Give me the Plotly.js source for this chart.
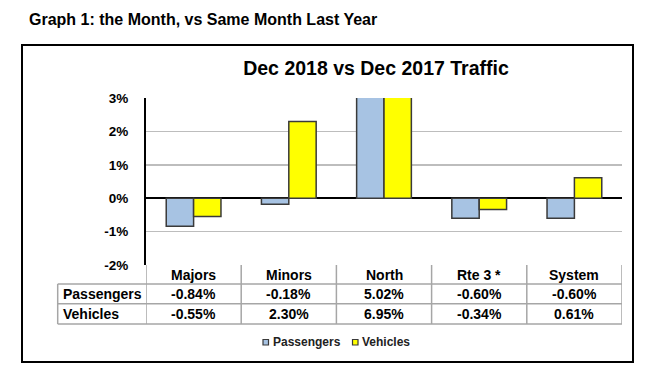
<!DOCTYPE html>
<html>
<head>
<meta charset="utf-8">
<script src="https://cdn.plot.ly/plotly-3.0.1.min.js"></script>
<style>html,body{margin:0;padding:0;background:#fff;}#chart{width:659px;height:384px;}</style>
</head>
<body>
<div id="chart"></div>
<script>
// ---- data ----
const categories = ["Majors", "Minors", "North", "Rte 3 *", "System"];
const passengers = [-0.84, -0.18, 5.02, -0.60, -0.60];
const vehicles = [-0.55, 2.30, 6.95, -0.34, 0.61];
const seriesNames = ["Passengers", "Vehicles"];
const yTickVals = [3, 2, 1, 0, -1, -2];
const yTickText = ["3%", "2%", "1%", "0%", "-1%", "-2%"];
const chartTitle = "Dec 2018 vs Dec 2017 Traffic";
const heading = "Graph 1: the Month, vs Same Month Last Year";

// ---- layout helpers (pixel -> paper) ----
const PL = 146, PR = 622, PT = 98, PB = 265;
const W = PR - PL, H = PB - PT;
const fx = p => (p - PL) / W;
const fy = p => (PB - p) / H;

const FONT = "Arial, 'Liberation Sans', sans-serif";
const colors = ["#A7C3E3", "#FFFF00"];
const edge = "#3A3A3A";
const tableLine = "#A6A6A6";

const series = [passengers, vehicles];
const traces = series.map((vals, i) => ({
  type: "bar",
  name: seriesNames[i],
  x: categories,
  y: vals,
  marker: { color: colors[i], line: { color: edge, width: 1.5 } },
  showlegend: false,
  hoverinfo: "x+y+name"
}));

const shapes = [];
const annotations = [];

// outer frame
shapes.push({ type: "rect", xref: "paper", yref: "paper",
  x0: fx(22), x1: fx(633), y0: fy(362), y1: fy(45),
  line: { color: "#000", width: 2 }, fillcolor: "rgba(0,0,0,0)", layer: "below" });

// table geometry
const rowTop = 265, rowH1 = 284, rowH2 = 303.7, rowBot = 324, labelLeft = 57.7;
// horizontal lines
shapes.push({ type: "line", xref: "paper", yref: "paper", x0: fx(labelLeft), x1: fx(PR), y0: fy(rowH1), y1: fy(rowH1), line: { color: tableLine, width: 1.5 } });
shapes.push({ type: "line", xref: "paper", yref: "paper", x0: fx(labelLeft), x1: fx(PR), y0: fy(rowH2), y1: fy(rowH2), line: { color: tableLine, width: 1.5 } });
shapes.push({ type: "line", xref: "paper", yref: "paper", x0: fx(labelLeft), x1: fx(PR), y0: fy(rowBot), y1: fy(rowBot), line: { color: tableLine, width: 1.5 } });
// left label column border
shapes.push({ type: "line", xref: "paper", yref: "paper", x0: fx(labelLeft), x1: fx(labelLeft), y0: fy(rowH1), y1: fy(rowBot), line: { color: tableLine, width: 1.5 } });
// category column borders
for (let i = 0; i <= categories.length; i++) {
  shapes.push({ type: "line", xref: "x", yref: "paper", x0: i - 0.5, x1: i - 0.5,
    y0: fy(i === 0 ? rowTop : rowTop), y1: fy(rowBot), line: { color: tableLine, width: 1.5 } });
}

const fmt = v => v.toFixed(2) + "%";
const cellFont = { family: FONT, size: 14, color: "#000", weight: 700 };
categories.forEach((c, i) => {
  annotations.push({ xref: "x", yref: "paper", x: i, y: fy((rowTop + rowH1) / 2 + 0.5), text: c, showarrow: false, font: cellFont, xanchor: "center", yanchor: "middle" });
  annotations.push({ xref: "x", yref: "paper", x: i, y: fy((rowH1 + rowH2) / 2 + 0.5), text: fmt(passengers[i]), showarrow: false, font: cellFont, xanchor: "center", yanchor: "middle" });
  annotations.push({ xref: "x", yref: "paper", x: i, y: fy((rowH2 + rowBot) / 2 + 0.5), text: fmt(vehicles[i]), showarrow: false, font: cellFont, xanchor: "center", yanchor: "middle" });
});
annotations.push({ xref: "paper", yref: "paper", x: fx(labelLeft + 3), y: fy((rowH1 + rowH2) / 2 + 0.5), text: seriesNames[0], showarrow: false, font: cellFont, xanchor: "left", yanchor: "middle" });
annotations.push({ xref: "paper", yref: "paper", x: fx(labelLeft + 3), y: fy((rowH2 + rowBot) / 2 + 0.5), text: seriesNames[1], showarrow: false, font: cellFont, xanchor: "left", yanchor: "middle" });

// manual legend
const legendItems = [{ box: 263, text: 270.5 }, { box: 352.5, text: 359.5 }];
legendItems.forEach((it, i) => {
  shapes.push({ type: "rect", xref: "paper", yref: "paper", x0: fx(it.box), x1: fx(it.box + 5.5), y0: fy(345), y1: fy(339.5),
    fillcolor: colors[i], line: { color: edge, width: 1.2 } });
  annotations.push({ xref: "paper", yref: "paper", x: fx(it.text), y: fy(342.3), text: seriesNames[i], showarrow: false,
    font: { family: FONT, size: 12, color: "#222", weight: 700 }, xanchor: "left", yanchor: "middle" });
});

// heading
annotations.push({ xref: "paper", yref: "paper", x: fx(27), y: fy(19.5), text: heading, showarrow: false,
  font: { family: FONT, size: 16, color: "#000", weight: 700 }, xanchor: "left", yanchor: "middle" });

const layout = {
  width: 659, height: 384,
  margin: { l: PL, r: 659 - PR, t: PT, b: 384 - PB, pad: 0 },
  paper_bgcolor: "#fff", plot_bgcolor: "#fff",
  title: { text: chartTitle, x: 376 / 659, xanchor: "center", xref: "container", y: 1 - 68.5 / 384, yanchor: "middle", yref: "container",
    font: { family: FONT, size: 19.5, color: "#000", weight: 700 } },
  barmode: "group", bargap: 0.425, bargroupgap: 0,
  xaxis: { type: "category", range: [-0.5, 4.5], showticklabels: false, showgrid: false, zeroline: false, showline: false, ticks: "", fixedrange: true },
  yaxis: { range: [-2, 3], tickvals: yTickVals, ticktext: yTickText, showgrid: true, gridcolor: "#BDBDBD", gridwidth: 1.5,
    zeroline: true, zerolinecolor: "#000", zerolinewidth: 1.5, showline: true, linecolor: "#000", linewidth: 2,
    ticks: "", ticklabelstandoff: 13, tickfont: { family: FONT, size: 13.5, color: "#000", weight: 700 }, fixedrange: true },
  shapes: shapes,
  annotations: annotations,
  showlegend: false
};

Plotly.newPlot("chart", traces, layout, { displayModeBar: false, staticPlot: true });
</script>
</body>
</html>
